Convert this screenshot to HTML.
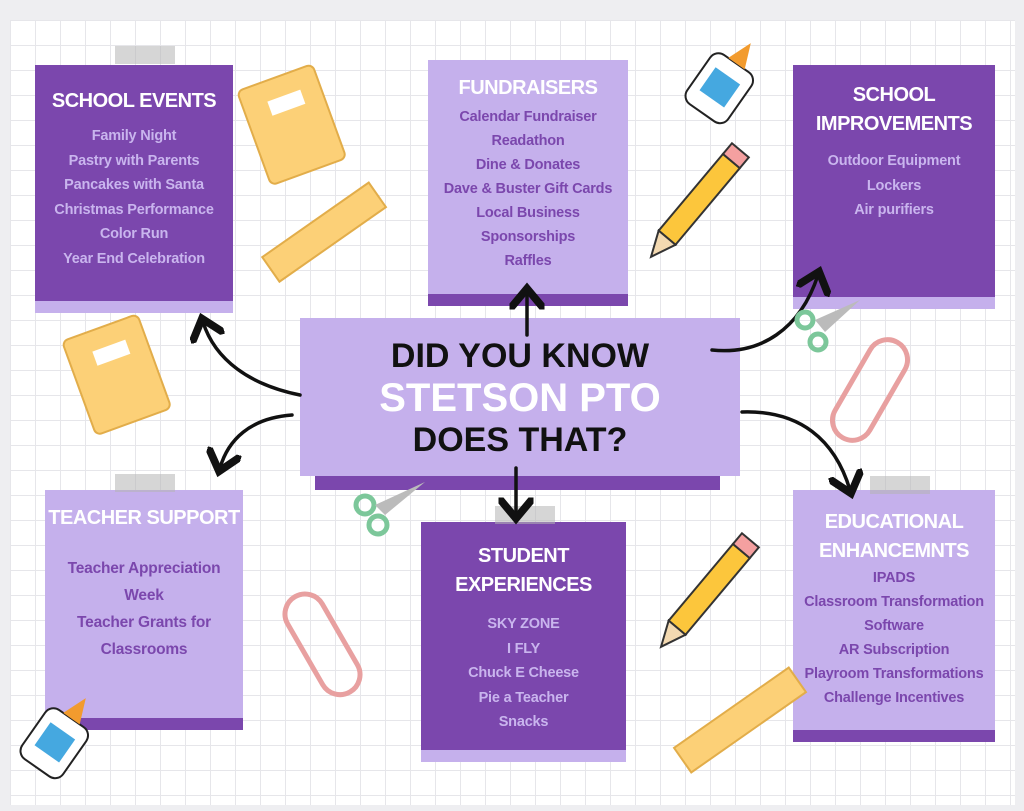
<!DOCTYPE html>
<html><head><meta charset="utf-8"><style>
body{margin:0;width:1024px;height:811px;overflow:hidden;background:#eeeef1;font-family:"Liberation Sans",sans-serif}
.page{position:absolute;left:10px;top:20px;width:1005px;height:785px;background-color:#fff;
background-image:linear-gradient(#e6e6ea 1px,transparent 1px),linear-gradient(90deg,#e6e6ea 1px,transparent 1px);background-size:25px 25px}
.box{position:absolute;text-align:center;font-weight:bold;box-sizing:border-box}
.d{background:#7b47ad;color:#c9b5ee}
.l{background:#c5b0ec;color:#7b47ad}
.box h2{margin:0;color:#fff;font-size:20px;line-height:29px;font-weight:bold;white-space:nowrap;letter-spacing:-0.5px}
.box .it{font-size:14.5px;line-height:24.5px;white-space:nowrap;letter-spacing:-0.2px}
.strip{position:absolute;left:0;right:0;bottom:-8px;height:12px}
.tape{position:absolute;width:60px;height:18px;background:rgba(180,180,180,.55)}
</style></head><body>
<div class="page"></div>
<div class="box d" style="left:35px;top:65px;width:198px;height:240px;padding-top:22px">
<h2>SCHOOL EVENTS</h2><div class="it" style="margin-top:8px">Family Night<br>Pastry with Parents<br>Pancakes with Santa<br>Christmas Performance<br>Color Run<br>Year End Celebration</div>
<div class="strip" style="background:#c5b0ec"></div></div>
<div class="tape" style="left:115px;top:46px"></div>

<div class="box l" style="left:428px;top:60px;width:200px;height:238px;padding-top:14px">
<h2>FUNDRAISERS</h2><div class="it" style="margin-top:2px;line-height:24px">Calendar Fundraiser<br>Readathon<br>Dine &amp; Donates<br>Dave &amp; Buster Gift Cards<br>Local Business<br>Sponsorships<br>Raffles</div>
<div class="strip" style="background:#7b47ad"></div></div>

<div class="box d" style="left:793px;top:65px;width:202px;height:236px;padding-top:16px">
<h2>SCHOOL<br>IMPROVEMENTS</h2><div class="it" style="margin-top:10px">Outdoor Equipment<br>Lockers<br>Air purifiers</div>
<div class="strip" style="background:#c5b0ec"></div></div>

<div class="box l" style="left:45px;top:490px;width:198px;height:232px;padding-top:14px">
<h2>TEACHER SUPPORT</h2><div class="it" style="margin-top:22px;line-height:27px;font-size:15.5px">Teacher Appreciation<br>Week<br>Teacher Grants for<br>Classrooms</div>
<div class="strip" style="background:#7b47ad"></div></div>
<div class="tape" style="left:115px;top:474px"></div>

<div class="box d" style="left:421px;top:522px;width:205px;height:232px;padding-top:20px">
<h2>STUDENT<br>EXPERIENCES</h2><div class="it" style="margin-top:12px">SKY ZONE<br>I FLY<br>Chuck E Cheese<br>Pie a Teacher<br>Snacks</div>
<div class="strip" style="background:#c5b0ec"></div></div>
<div class="tape" style="left:495px;top:506px"></div>

<div class="box l" style="left:793px;top:490px;width:202px;height:244px;padding-top:18px">
<h2>EDUCATIONAL<br>ENHANCEMNTS</h2><div class="it" style="line-height:24px">IPADS<br>Classroom Transformation<br>Software<br>AR Subscription<br>Playroom Transformations<br>Challenge Incentives</div>
<div class="strip" style="background:#7b47ad"></div></div>
<div class="tape" style="left:870px;top:476px"></div>

<div style="position:absolute;left:315px;top:470px;width:405px;height:20px;background:#7b47ad"></div>
<div style="position:absolute;left:300px;top:318px;width:440px;height:158px;background:#c5b0ec;text-align:center;font-weight:bold">
<div style="font-size:34px;line-height:40px;margin-top:18px;color:#111">DID YOU KNOW</div>
<div style="font-size:40px;line-height:44px;color:#fff">STETSON PTO</div>
<div style="font-size:34px;line-height:40px;color:#111">DOES THAT?</div>
</div>

<svg width="1024" height="811" style="position:absolute;left:0;top:0">
<defs><marker id="a" markerWidth="10" markerHeight="10" refX="5" refY="5" orient="auto"><path d="M0,0 L6,5 L0,10" fill="none" stroke="#111" stroke-width="2.2"/></marker></defs>
<g fill="none" stroke="#111" stroke-width="3.5" stroke-linecap="round" marker-end="url(#a)">
<path d="M300,395 C250,385 215,360 203,322"/>
<path d="M527,335 L527,292"/>
<path d="M712,350 C760,355 800,330 818,275"/>
<path d="M292,415 C250,418 228,440 220,468"/>
<path d="M516,468 L516,515"/>
<path d="M742,412 C800,410 835,440 850,490"/>
</g>
<g transform="rotate(-20 290 120)"><rect x="250" y="75" width="80" height="100" rx="6" fill="#fcd077" stroke="#e2ad4a" stroke-width="2"/><rect x="275" y="95" width="35" height="15" fill="#fff"/></g>
<g transform="rotate(-20 115 370)"><rect x="75" y="325" width="80" height="100" rx="6" fill="#fcd077" stroke="#e2ad4a" stroke-width="2"/><rect x="100" y="345" width="35" height="15" fill="#fff"/></g>
<g transform="rotate(-35 320 235)"><rect x="260" y="220" width="130" height="30" fill="#fcd077" stroke="#e2ad4a" stroke-width="2"/></g>
<g transform="rotate(-35 740 720)"><rect x="670" y="705" width="140" height="30" fill="#fcd077" stroke="#e2ad4a" stroke-width="2"/></g>
<g transform="rotate(35 725 80)"><rect x="700" y="60" width="50" height="60" rx="10" fill="#fff" stroke="#222" stroke-width="2"/><rect x="710" y="75" width="30" height="28" fill="#45a8e0"/><path d="M715,60 L725,35 L735,60Z" fill="#f29b2e"/></g>
<g transform="rotate(35 60 735)"><rect x="35" y="715" width="50" height="60" rx="10" fill="#fff" stroke="#222" stroke-width="2"/><rect x="45" y="730" width="30" height="28" fill="#45a8e0"/><path d="M50,715 L60,690 L70,715Z" fill="#f29b2e"/></g>
<g transform="rotate(-50 700 200)"><rect x="650" y="188" width="100" height="22" fill="#fcc63c" stroke="#333" stroke-width="2"/><path d="M650,188 L625,199 L650,210Z" fill="#f3d9b1" stroke="#333" stroke-width="2"/><rect x="750" y="188" width="14" height="22" fill="#f4a0a0" stroke="#333" stroke-width="2"/></g>
<g transform="rotate(-50 710 590)"><rect x="660" y="578" width="100" height="22" fill="#fcc63c" stroke="#333" stroke-width="2"/><path d="M660,578 L635,589 L660,600Z" fill="#f3d9b1" stroke="#333" stroke-width="2"/><rect x="760" y="578" width="14" height="22" fill="#f4a0a0" stroke="#333" stroke-width="2"/></g>
<rect x="850" y="335" width="40" height="110" rx="20" fill="none" stroke="#e8a0a0" stroke-width="5" transform="rotate(30 870 390)"/>
<rect x="300" y="590" width="40" height="110" rx="20" fill="none" stroke="#e8a0a0" stroke-width="5" transform="rotate(-30 320 640)"/>
<g stroke="#7cc79a" stroke-width="5" fill="none"><circle cx="365" cy="505" r="9"/><circle cx="378" cy="525" r="9"/><circle cx="805" cy="320" r="8"/><circle cx="818" cy="342" r="8"/></g>
<g fill="#bbb"><path d="M375,505 L425,482 L385,515Z"/><path d="M815,320 L860,300 L825,332Z"/></g>
</svg>
</body></html>
